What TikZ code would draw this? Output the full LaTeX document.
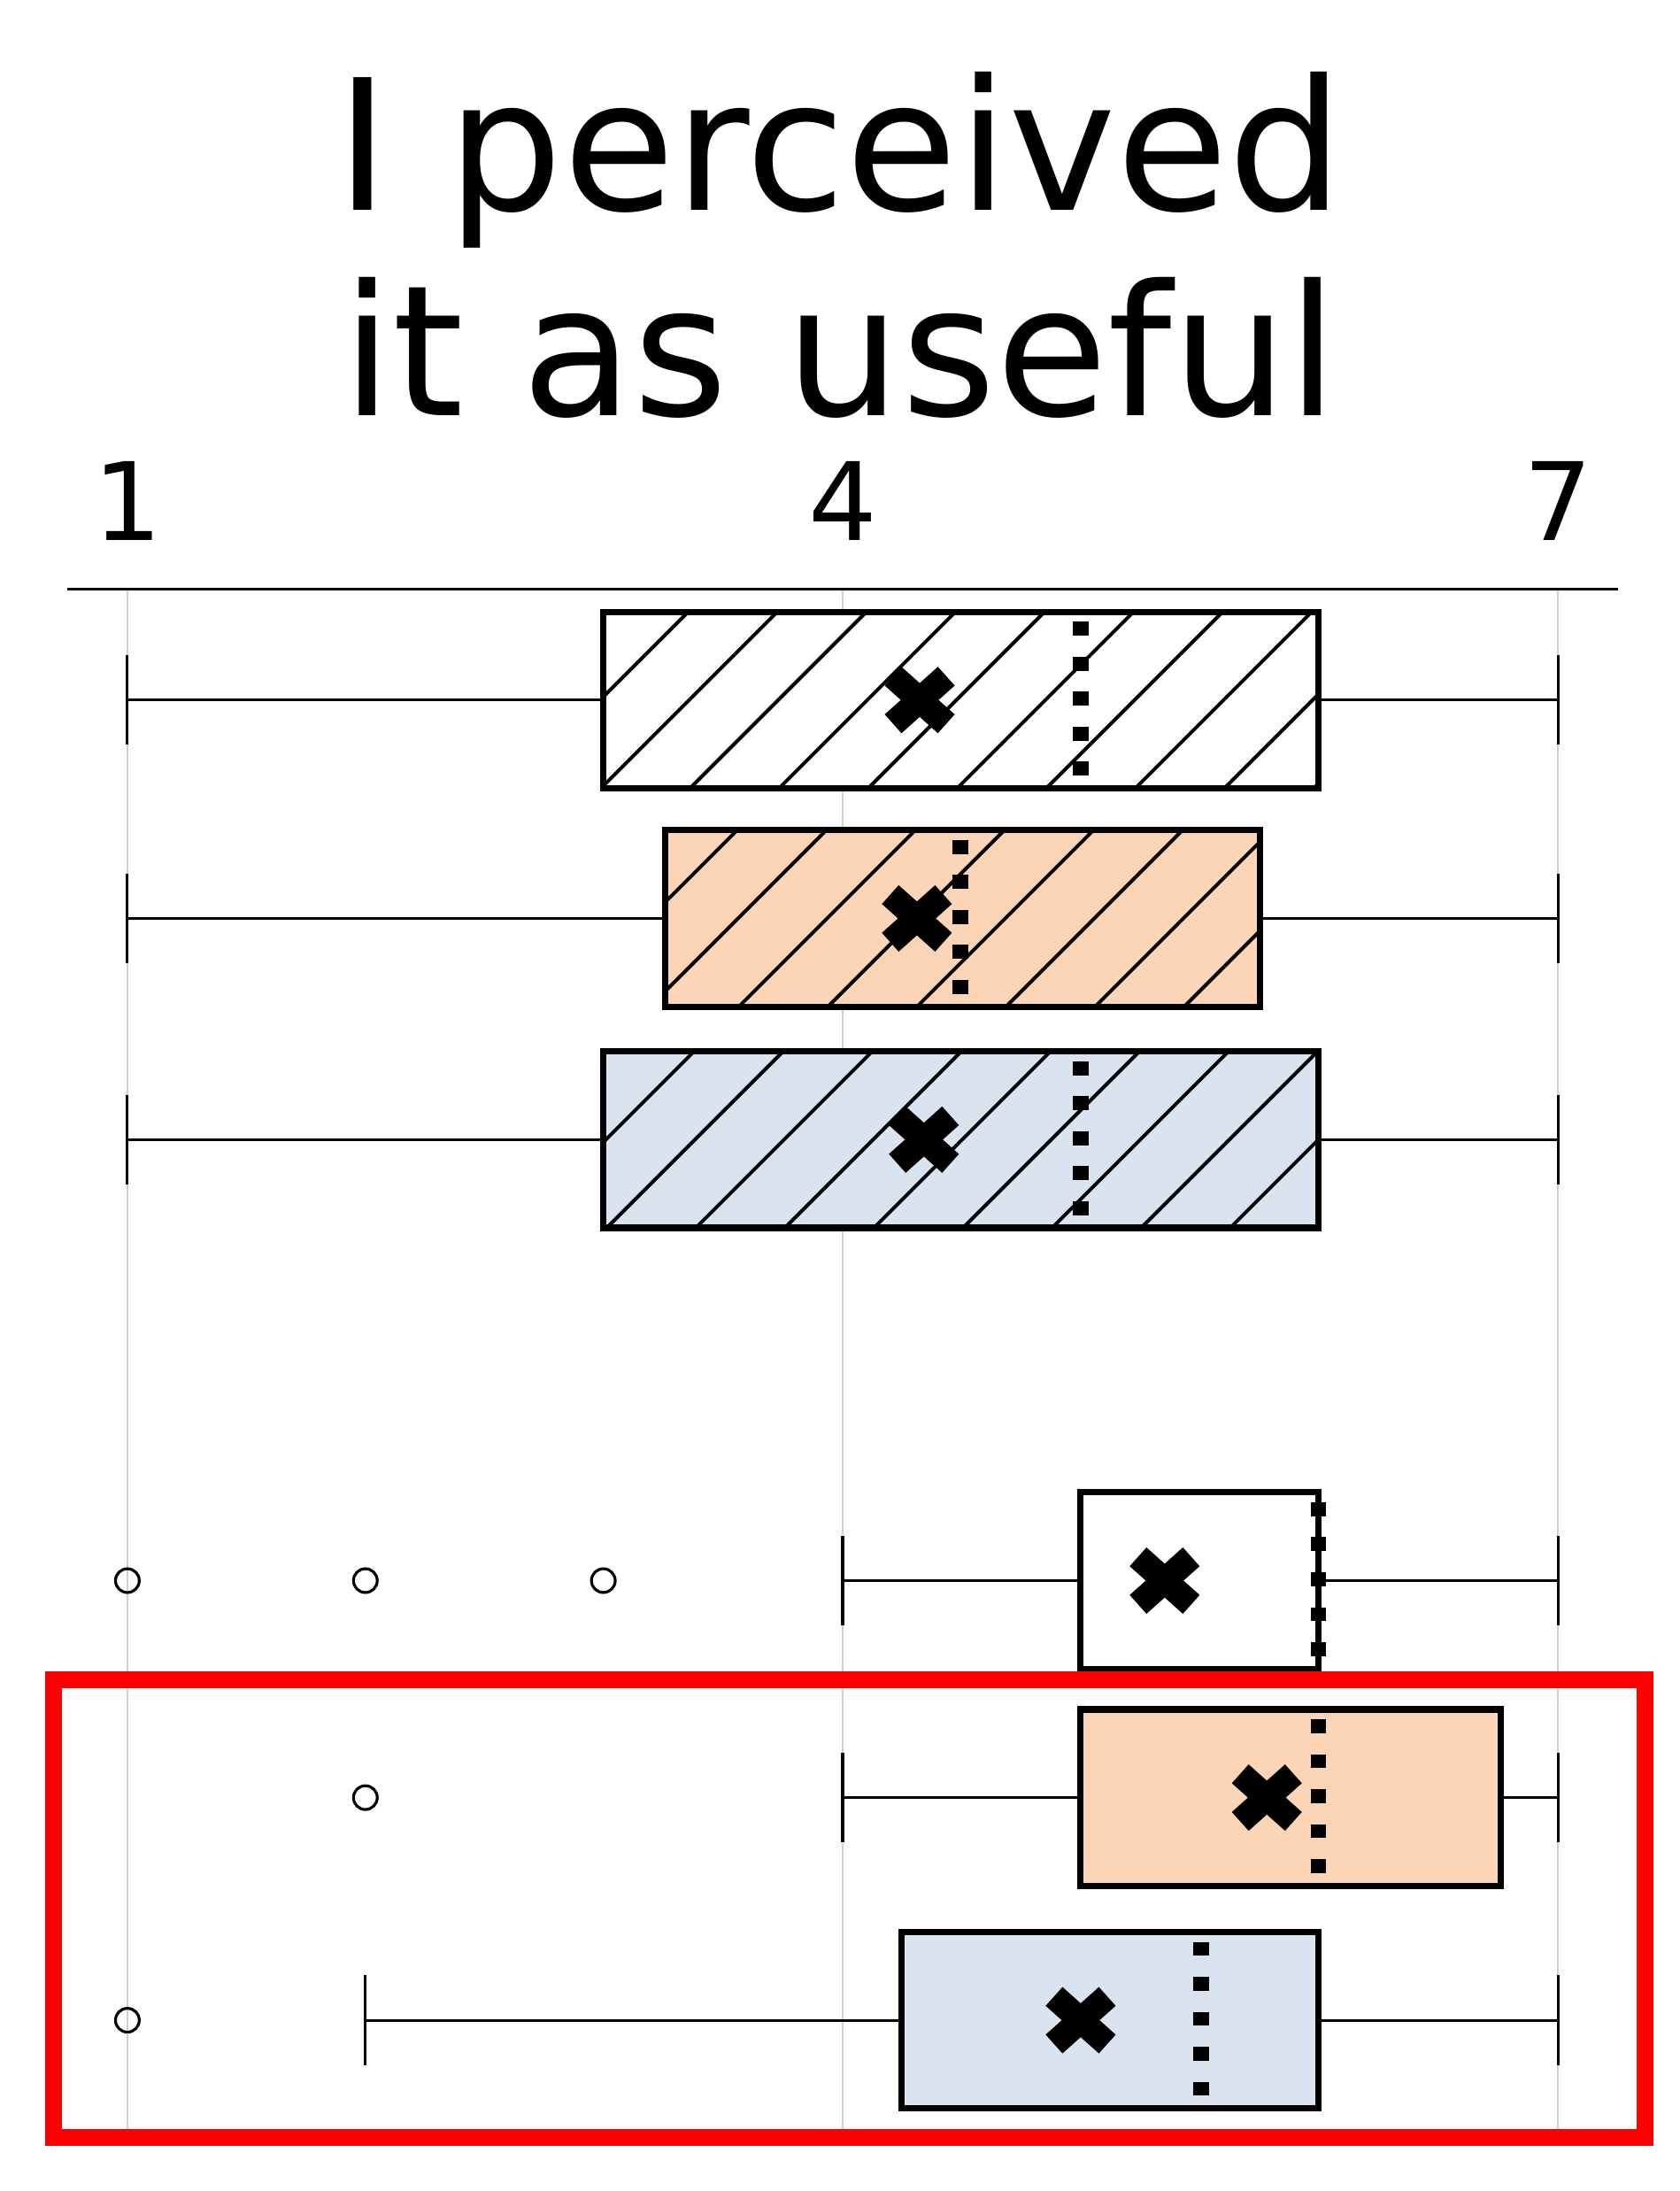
\documentclass[tikz,border=0pt]{standalone}
\usepackage{fontspec}
\setmainfont{DejaVu Sans}
\usetikzlibrary{patterns.meta}
\definecolor{orangefill}{HTML}{FBD5B5}
\definecolor{bluefill}{HTML}{DAE3F0}
\definecolor{gridgray}{HTML}{D0D0D0}
\tikzset{
  boxline/.style={line width=0.09cm},
  whisker/.style={line width=0.04cm},
  median/.style={line width=0.22cm, dash pattern=on 0.2cm off 0.3cm},
  meanmark/.style={line width=0.36cm},
  hatch/.style={pattern={Lines[angle=45,distance=0.9cm,line width=0.05cm]}},
  outlier/.style={circle, draw, line width=0.04cm, minimum size=0.34cm, inner sep=0pt},
  titletext/.style={font=\fontsize{74}{80}\selectfont, anchor=base},
}
\begin{document}
\begin{tikzpicture}[x=0.02cm,y=-0.02cm]
\useasboundingbox (0,0) rectangle (1200,1565);
% grid and axis
\foreach \gx in {91,602,1113}
  \draw[gridgray, line width=0.03cm] (\gx,421) -- (\gx,1522);
\draw[line width=0.04cm] (48,421) -- (1156,421);
\foreach \gx/\lab in {91/1,602/4,1113/7}
  \node[font=\fontsize{44}{48}\selectfont, anchor=base] at (\gx,386) {\lab};
\node[titletext] (title1) at (600,150) {I perceived};
\node[titletext] (title2) at (600,297) {it as useful};
% rows: center/q1/q3/median/mean/low/high/fill/hatched
\foreach \cy/\qa/\qb/\md/\mn/\lo/\hi/\fc/\hs in {
  500/431/942/772/657/91/1113/white/1,
  656/475/900/686/655/91/1113/orangefill/1,
  814/431/942/772/660/91/1113/bluefill/1,
  1129/772/942/942/832/602/1113/white/0,
  1284/772/1072/942/905/602/1113/orangefill/0,
  1443/644/942/858/772/261/1113/bluefill/0}{
  \draw[whisker] (\lo,\cy) -- (\qa,\cy) (\qb,\cy) -- (\hi,\cy);
  \draw[whisker] (\lo,\cy-32) -- (\lo,\cy+32) (\hi,\cy-32) -- (\hi,\cy+32);
  \fill[\fc] (\qa,\cy-63) rectangle (\qb,\cy+63);
  \ifnum\hs=1 \fill[hatch] (\qa,\cy-63) rectangle (\qb,\cy+63); \fi
  \draw[boxline] (\qa,\cy-63) rectangle (\qb,\cy+63);
  \draw[median] (\md,\cy-56) -- (\md,\cy+63);
  \draw[meanmark] (\mn-19,\cy-17) -- (\mn+19,\cy+17) (\mn-19,\cy+17) -- (\mn+19,\cy-17);
}
% outliers
\node[outlier] (o1) at (91,1129) {};
\node[outlier] (o2) at (261,1129) {};
\node[outlier] (o3) at (431,1129) {};
\node[outlier] (o4) at (261,1284) {};
\node[outlier] (o5) at (91,1443) {};
% highlight
\draw[red, line width=0.24cm] (38,1200) rectangle (1175,1527);
\end{tikzpicture}
\end{document}
